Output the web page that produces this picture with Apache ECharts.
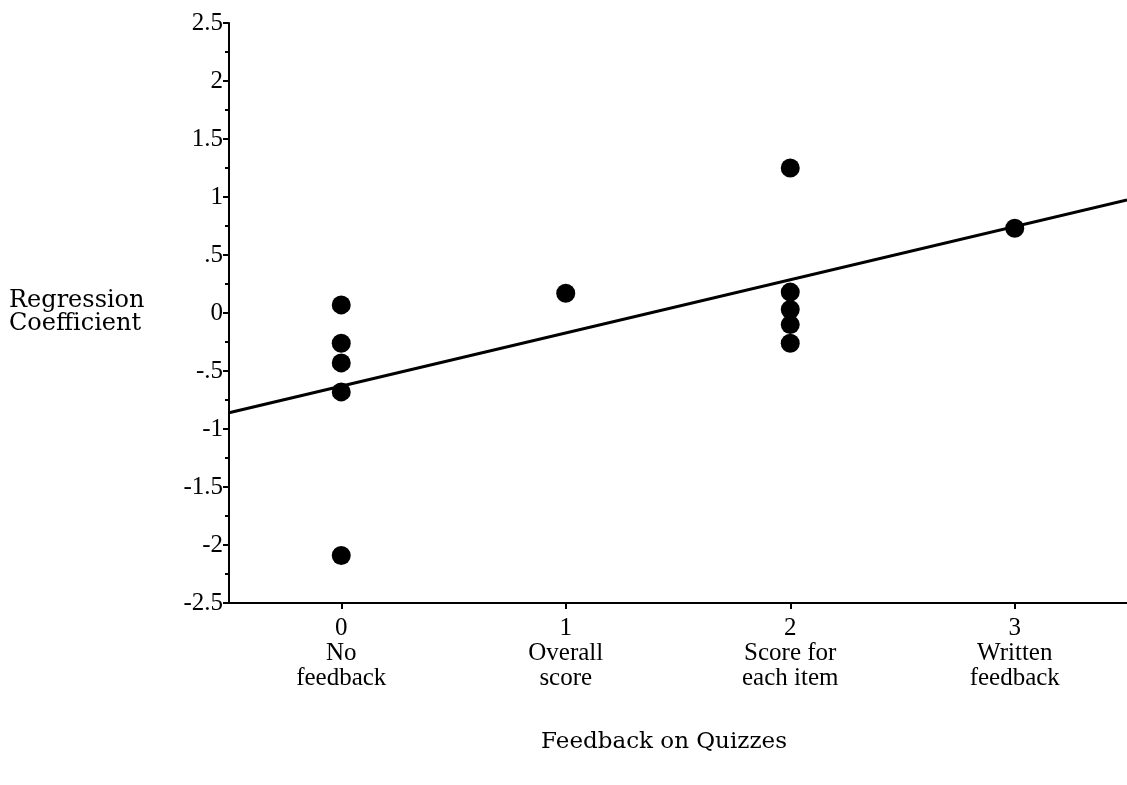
<!DOCTYPE html>
<html>
<head>
<meta charset="utf-8">
<script src="https://cdn.jsdelivr.net/npm/echarts@6/dist/echarts.min.js"></script>
<style>html,body{margin:0;padding:0;background:#fff;}#c{width:1127px;height:785px;}</style>
</head>
<body>
<div id="c"></div>
<script>
// Category ticks on the x axis (feedback level) and their labels
const xTicks = [0, 1, 2, 3];
const xTickLabels = ['0\nNo\nfeedback', '1\nOverall\nscore', '2\nScore for\neach item', '3\nWritten\nfeedback'];
// Observed regression coefficients by feedback level
const pointsX = [0, 0, 0, 0, 0, 1, 2, 2, 2, 2, 2, 3];
const pointsY = [0.07, -0.26, -0.43, -0.68, -2.09, 0.17, 1.25, 0.18, 0.03, -0.10, -0.26, 0.73];
// Fitted regression line endpoints
const lineX = [-0.5, 3.5];
const lineY = [-0.86, 0.975];

const font = '"Liberation Serif", "Times New Roman", serif';
const titleFont = '"DejaVu Serif", serif';
const chart = echarts.init(document.getElementById('c'));
chart.setOption({
  animation: false,
  backgroundColor: '#fff',
  title: {
    text: 'Regression\nCoefficient',
    left: 4, top: 284,
    textStyle: { fontFamily: titleFont, fontSize: 24, fontWeight: 'normal', color: '#000', lineHeight: 23 }
  },
  grid: { left: 229, right: 0, top: 23, bottom: 182 },
  xAxis: {
    type: 'value', min: -0.5, max: 3.5,
    splitLine: { show: false },
    axisLine: { onZero: false, lineStyle: { color: '#000', width: 2 } },
    axisTick: { show: true, customValues: xTicks, length: 6, lineStyle: { color: '#000', width: 2 } },
    axisLabel: {
      customValues: xTicks,
      formatter: v => xTickLabels[xTicks.indexOf(v)],
      fontFamily: font, fontSize: 25, color: '#000', lineHeight: 25, margin: 13
    },
    name: 'Feedback on Quizzes', nameLocation: 'middle', nameGap: 128,
    nameTextStyle: { fontFamily: titleFont, fontSize: 23, color: '#000', padding: [0, 28, 0, 0] }
  },
  yAxis: {
    type: 'value', min: -2.5, max: 2.5, interval: 0.5,
    splitLine: { show: false },
    axisLine: { onZero: false, lineStyle: { color: '#000', width: 2 } },
    axisTick: { show: true, length: 6, lineStyle: { color: '#000', width: 2 } },
    minorTick: { show: true, splitNumber: 2, length: 4, lineStyle: { color: '#000', width: 2 } },
    axisLabel: {
      formatter: v => String(v).replace('0.', '.'),
      fontFamily: font, fontSize: 25, color: '#000', margin: 6
    }
  },
  series: [
    {
      type: 'line', data: lineX.map((x, i) => [x, lineY[i]]),
      symbol: 'none', lineStyle: { color: '#000', width: 3 }, z: 2
    },
    {
      type: 'scatter', data: pointsX.map((x, i) => [x, pointsY[i]]),
      symbol: 'circle', symbolSize: 19, itemStyle: { color: '#000', opacity: 1 }, z: 3
    }
  ]
});
</script>
</body>
</html>
